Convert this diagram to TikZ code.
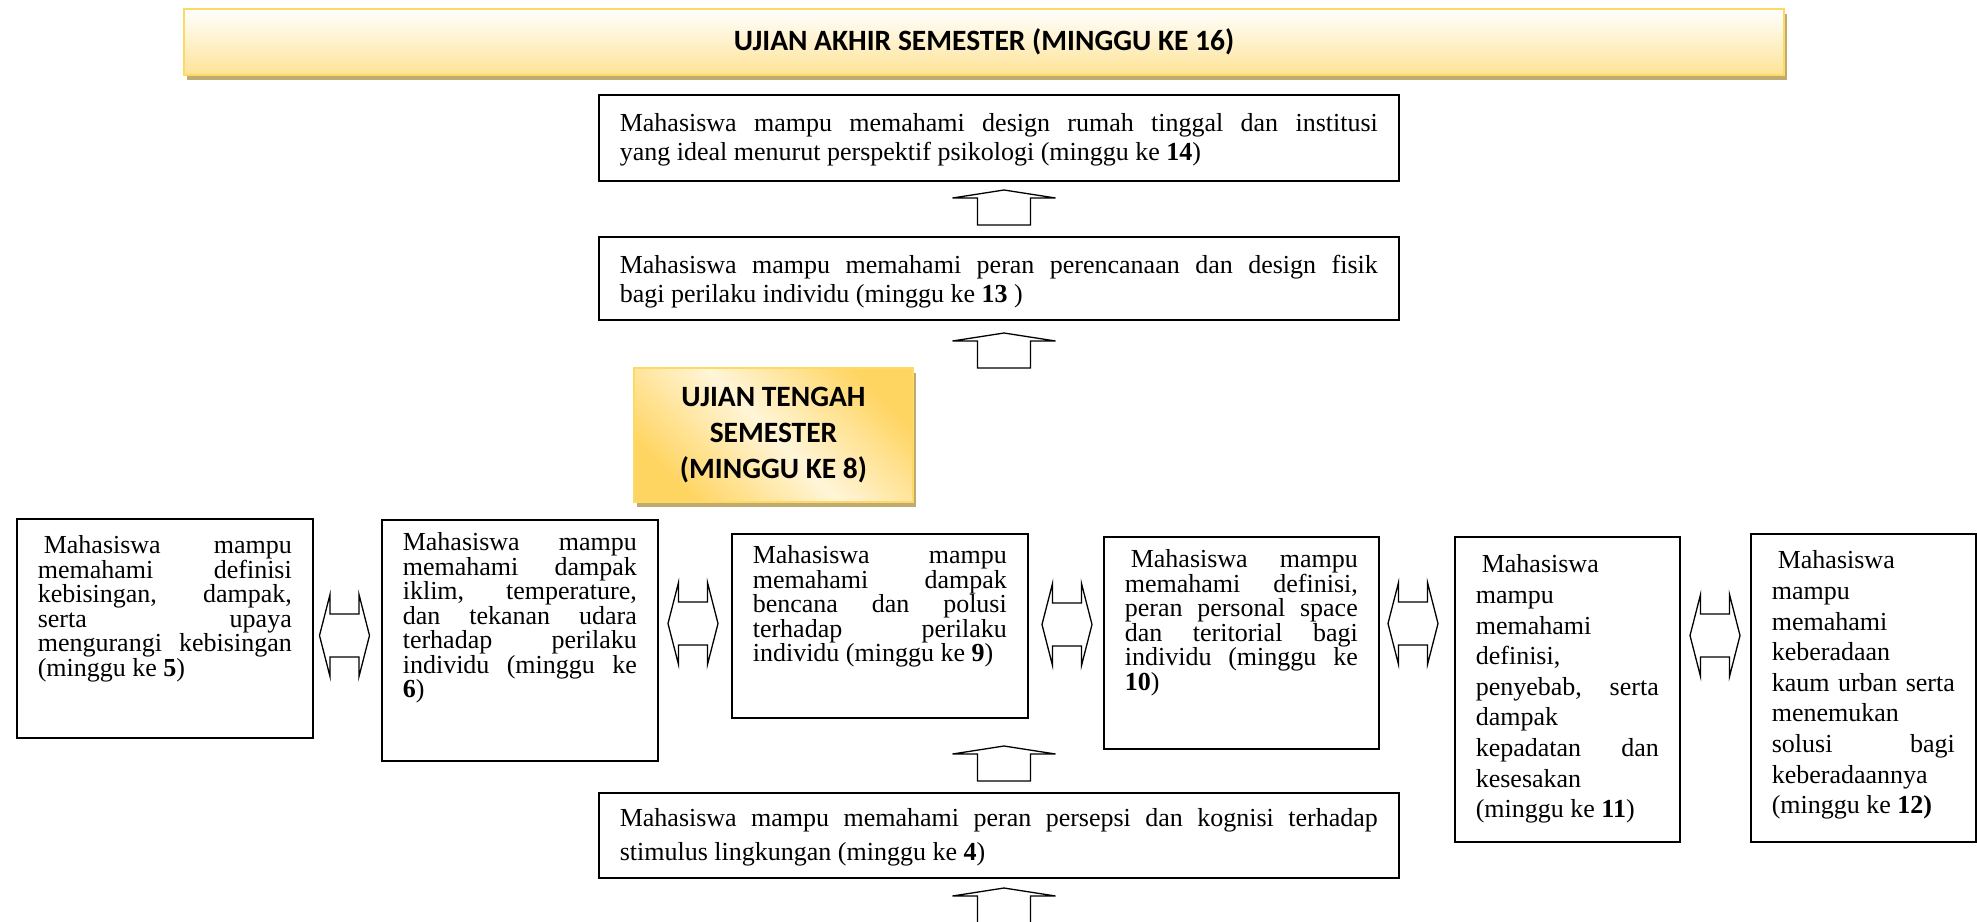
\documentclass[tikz,border=0pt]{standalone}
\usepackage{fontspec}
\setmainfont{Liberation Serif}
\newfontfamily\judul{Carlito}
\usetikzlibrary{shadows}
\definecolor{emas}{RGB}{255,217,102}
\definecolor{emasbawah}{RGB}{254,227,150}
\definecolor{emastua}{RGB}{255,213,98}
\definecolor{emasmuda}{RGB}{255,245,216}
\definecolor{bayang}{RGB}{191,170,112}
\newcommand\isiatur{\lineskiplimit=-50pt\hyphenpenalty=10000\relax}
\newcommand\isi{\fontsize{26}{24.5}\selectfont\isiatur}
\newcommand\isisedang{\fontsize{26}{29}\selectfont\isiatur}
\newcommand\isirenggang{\fontsize{26}{30.6}\selectfont\isiatur}
\newcommand\isilebar{\fontsize{26}{34}\selectfont\isiatur}

\begin{document}
\begin{tikzpicture}[x=1pt,y=-1pt,
  kotak/.style={draw, line width=1.6pt, fill=white, anchor=north west, inner xsep=21pt, inner ysep=0pt, align=justify, font=\isi},
  ujian/.style={draw=emas, line width=2.5pt, inner sep=0pt, align=center, font=\judul\bfseries\fontsize{29.5}{36}\selectfont, drop shadow={shadow xshift=3pt, shadow yshift=-5pt, fill=bayang, opacity=1}},
  panah/.style={draw, line width=1.3pt, fill=white, line join=miter},
  naik/.pic={\path[panah] (-51.5,8) -- (0,0) -- (51.5,8) -- (26.5,8) -- (26.5,35) -- (-26.5,35) -- (-26.5,8) -- cycle;},
  dua/.pic={\path[panah] (-25,0) -- (-14.5,-41) -- (-14.5,-21.5) -- (14.5,-21.5) -- (14.5,-41) -- (25,0) -- (14.5,41) -- (14.5,21.5) -- (-14.5,21.5) -- (-14.5,41) -- cycle;}]
\useasboundingbox (0,0) rectangle (1977,921);

\node[ujian, top color=white, bottom color=emasbawah, minimum width=1600pt, minimum height=66pt] (uas) at (984,42) {UJIAN AKHIR SEMESTER (MINGGU KE 16)};
\node[ujian, left color=emastua, right color=emastua, middle color=emasmuda, shading angle=-45, minimum width=279pt, minimum height=134pt] (uts) at (773.5,435) {UJIAN TENGAH\\SEMESTER\\(MINGGU KE 8)};

\node[kotak, text width=758pt, text height=37pt, text depth=49pt, font=\isisedang] (w14) at (598,94) {Mahasiswa mampu memahami design rumah tinggal dan institusi\linebreak yang ideal menurut perspektif psikologi (minggu ke \textbf{14})};
\node[kotak, text width=758pt, text height=37pt, text depth=46pt, font=\isisedang] (w13) at (598,236) {Mahasiswa mampu memahami peran perencanaan dan design fisik\linebreak bagi perilaku individu (minggu ke \textbf{13} )};
\node[kotak, text width=758pt, text height=34pt, text depth=51pt, font=\isilebar] (w4) at (598,792) {Mahasiswa mampu memahami peran persepsi dan kognisi terhadap\linebreak stimulus lingkungan (minggu ke \textbf{4})};

\node[kotak, text width=254pt, text height=35pt, text depth=184pt] (w5) at (16,518) {\hspace*{6pt}Mahasiswa mampu\linebreak memahami definisi\linebreak kebisingan, dampak,\linebreak serta upaya\linebreak mengurangi kebisingan\linebreak (minggu ke \textbf{5})};
\node[kotak, text width=234pt, text height=31pt, text depth=210pt] (w6) at (381,519) {Mahasiswa mampu\linebreak memahami dampak\linebreak iklim, temperature,\linebreak dan tekanan udara\linebreak terhadap perilaku\linebreak individu (minggu ke\linebreak \textbf{6})};
\node[kotak, text width=254pt, text height=30pt, text depth=154pt] (w9) at (731,533) {Mahasiswa mampu\linebreak memahami dampak\linebreak bencana dan polusi\linebreak terhadap perilaku\linebreak individu (minggu ke \textbf{9})};
\node[kotak, text width=233pt, text height=31pt, text depth=181pt] (w10) at (1103,536) {\hspace*{6pt}Mahasiswa mampu\linebreak memahami definisi,\linebreak peran personal space\linebreak dan teritorial bagi\linebreak individu (minggu ke\linebreak \textbf{10})};
\node[kotak, text width=183pt, text height=36pt, text depth=269pt, font=\isirenggang] (w11) at (1454,536) {\hspace*{6pt}Mahasiswa\linebreak mampu\linebreak memahami\linebreak definisi,\linebreak penyebab, serta\linebreak dampak\linebreak kepadatan dan\linebreak kesesakan\linebreak (minggu ke \textbf{11})};
\node[kotak, text width=183pt, text height=35pt, text depth=273pt, font=\isirenggang] (w12) at (1750,533) {\hspace*{6pt}Mahasiswa\linebreak mampu\linebreak memahami\linebreak keberadaan\linebreak kaum urban serta\linebreak menemukan\linebreak solusi bagi\linebreak keberadaannya\linebreak (minggu ke \textbf{12)}};

\pic at (1004,190) {naik};
\pic at (1004,333) {naik};
\pic at (1004,746) {naik};
\pic at (1004,888) {naik};

\pic at (344.5,635.5) {dua};
\pic at (693,623.5) {dua};
\pic at (1067,624.5) {dua};
\pic at (1413,623.5) {dua};
\pic at (1715,635.5) {dua};
\end{tikzpicture}
\end{document}
